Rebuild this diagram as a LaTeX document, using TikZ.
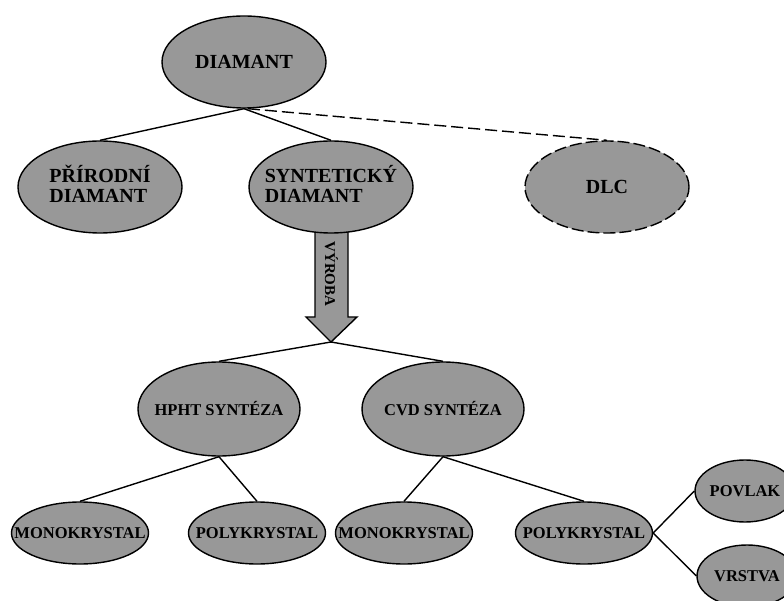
\documentclass[tikz,border=0pt]{standalone}
\usepackage{fontspec}
\setmainfont{Liberation Serif}
\usetikzlibrary{shapes.geometric}
\definecolor{nodegray}{RGB}{152,152,152}
\newcommand{\zw}[1]{\makebox[0pt][c]{#1}}
\newcommand{\zwl}[2]{\makebox[0pt][c]{\begin{tabular}{@{}l@{}}#1\\#2\end{tabular}}}
\begin{document}
\begin{tikzpicture}[x=1pt,y=-1pt,
  ell/.style={ellipse,draw=black,line width=1.4pt,fill=nodegray,inner sep=0pt,font=\bfseries},
  big/.style={ell,minimum width=164pt,minimum height=92pt,font=\bfseries\fontsize{20}{20}\selectfont},
  mid/.style={ell,minimum width=162pt,minimum height=94pt,font=\bfseries\fontsize{16.5}{18}\selectfont},
  small/.style={ell,minimum width=137pt,minimum height=62pt,font=\bfseries\fontsize{16.5}{17}\selectfont},
  link/.style={line width=1.4pt,draw=black},
  dlink/.style={link,dash pattern=on 12pt off 5pt}]
\useasboundingbox (0,0) rectangle (784,601);
% arrow
\coordinate (tip) at (331,342);
\draw[line width=1.4pt,fill=nodegray] (315,226) -- (348,226) -- (348,317) -- (357,317) -- (tip) -- (306,317) -- (315,317) -- cycle;
\node[rotate=-90,font=\bfseries\fontsize{15}{16}\selectfont] (vyr) at (331.5,274) {VÝROBA};
% nodes
\node[big] (dia) at (244,62) {\zw{DIAMANT}};
\node[big] (pri) at (100,187) {\zwl{PŘÍRODNÍ}{DIAMANT}};
\node[big] (syn) at (331,187) {\zwl{SYNTETICKÝ}{DIAMANT}};
\node[big,dash pattern=on 12pt off 4pt] (dlc) at (607,187) {\zw{DLC}};
\node[mid] (hpht) at (219,409) {\zw{HPHT SYNTÉZA}};
\node[mid] (cvd) at (443,409) {\zw{CVD SYNTÉZA}};
\node[small] (mono1) at (80,533) {\zw{MONOKRYSTAL}};
\node[small] (poly1) at (257,533) {\zw{POLYKRYSTAL}};
\node[small] (mono2) at (404,533) {\zw{MONOKRYSTAL}};
\node[small] (poly2) at (584,533) {\zw{POLYKRYSTAL}};
\node[small,minimum width=100pt] (povlak) at (745,491) {\zw{POVLAK}};
\node[small,minimum width=100pt] (vrstva) at (747,576) {\zw{VRSTVA}};
% connectors
\draw[link] (dia.south) -- (pri.north);
\draw[link] (dia.south) -- (syn.north);
\draw[dlink] ([xshift=4pt]dia.south) -- (dlc.north);
\draw[link] (tip) -- (hpht.north);
\draw[link] (tip) -- (cvd.north);
\draw[link] (hpht.south) -- (mono1.north);
\draw[link] (hpht.south) -- (poly1.north);
\draw[link] (cvd.south) -- (mono2.north);
\draw[link] (cvd.south) -- (poly2.north);
\draw[link] (poly2.east) -- (povlak.west);
\draw[link] (poly2.east) -- (vrstva.west);
\end{tikzpicture}
\end{document}
